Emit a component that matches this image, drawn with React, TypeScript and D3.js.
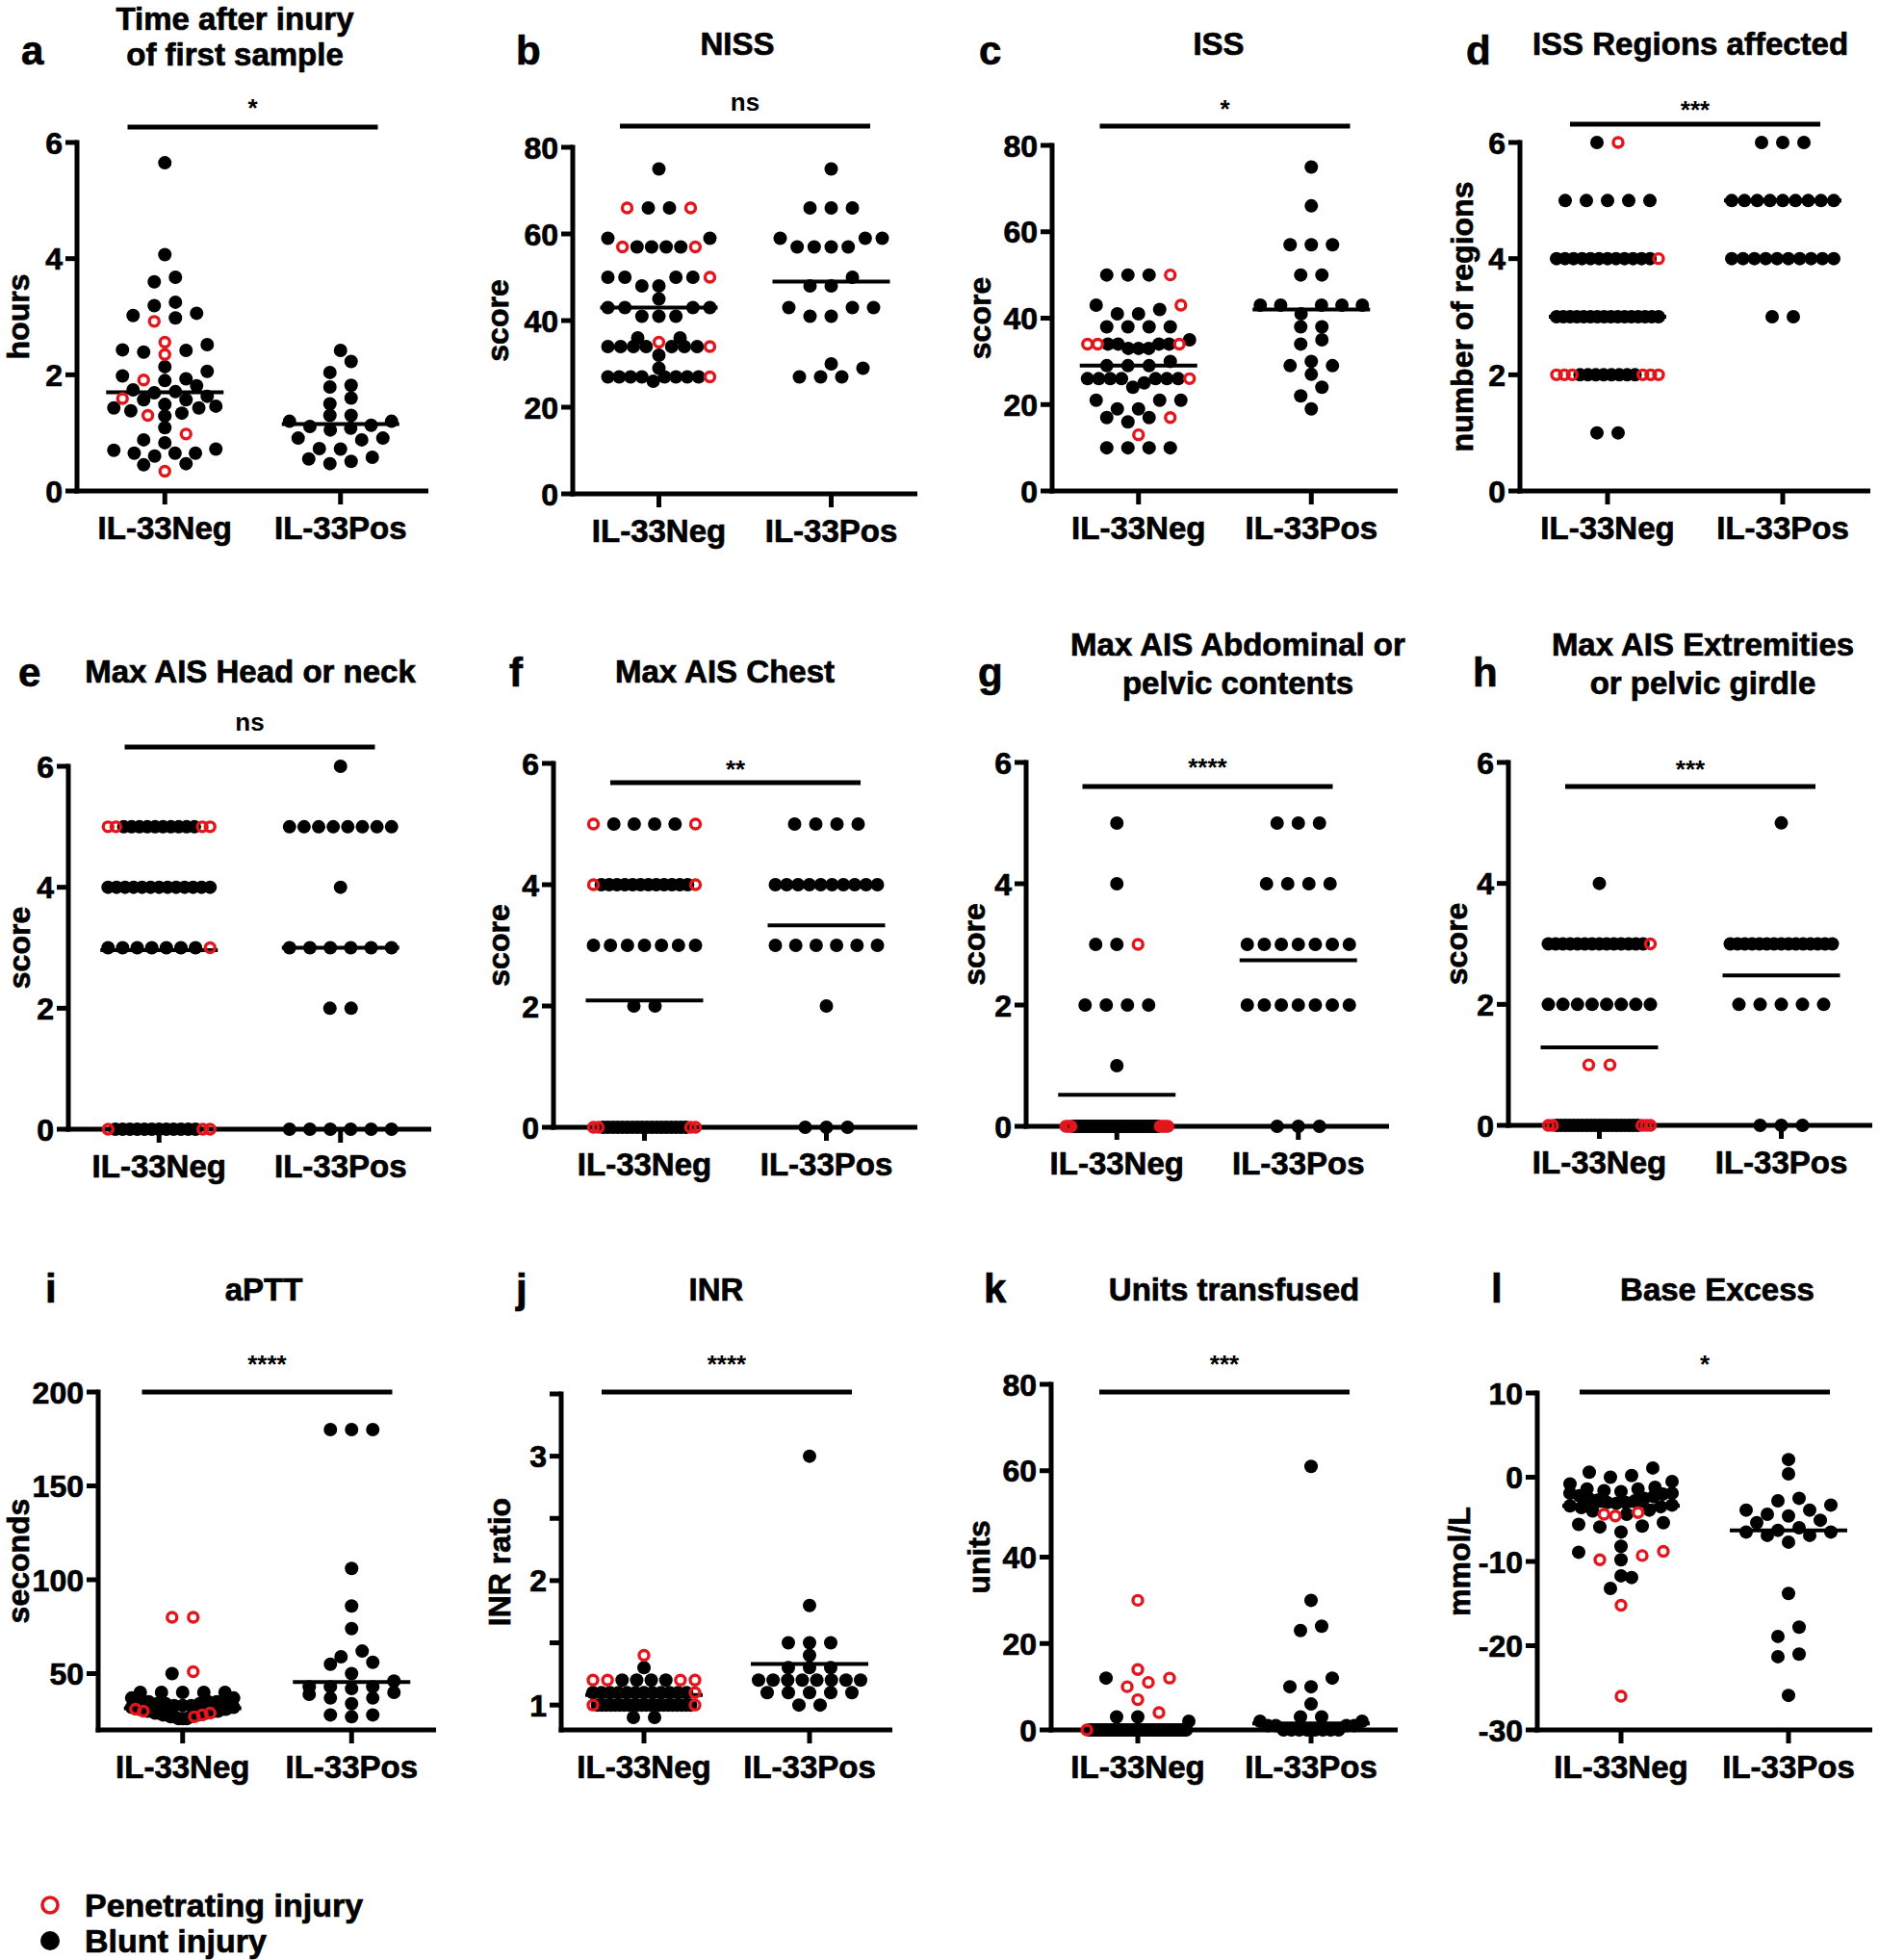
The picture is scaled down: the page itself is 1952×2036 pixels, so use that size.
import React from "react"
import * as d3 from "d3"

const GROUPS = ["IL-33Neg", "IL-33Pos"]

// a - time after injury (hours)
const timeNeg = [5.65, 4.07, 3.68, 3.6, 3.25, 3.19, 3.06, 3.02, 2.98, 2.52, 2.43, 2.42, 2.39, 2.14, 2.06, 1.98, 1.93, 1.9, 1.81, 1.74, 1.71, 1.69, 1.63, 1.57, 1.57, 1.49, 1.46, 1.43, 1.43, 1.38, 1.34, 1.29, 1.09, 0.88, 0.83, 0.72, 0.7, 0.65, 0.65, 0.65, 0.6, 0.47, 0.45]
const timeNegPen = [2.92, 2.56, 2.35, 1.91, 1.59, 1.3, 0.98, 0.34]
const timePos = [2.42, 2.23, 2.04, 1.82, 1.79, 1.6, 1.5, 1.3, 1.3, 1.2, 1.2, 1.13, 1.11, 1.08, 1.05, 0.91, 0.91, 0.88, 0.73, 0.72, 0.58, 0.55, 0.51, 0.47]
const timeMean = [1.7, 1.15]

// b - NISS
const nissNeg = [75, 66, 66, 59, 59, 57, 57, 57, 57, 50, 50, 50, 50, 48, 48, 45, 43, 43, 43, 43, 41, 41, 41, 36, 36, 34, 34, 34, 34, 34, 34, 34, 32, 29, 27, 27, 27, 27, 27, 27, 27, 27, 26]
const nissNegPen = [66, 66, 57, 57, 50, 35, 34, 27]
const nissPos = [75, 66, 66, 66, 59, 59, 59, 57, 57, 57, 57, 50, 48, 48, 43, 43, 43, 41, 41, 30, 29, 27, 27, 27]
const nissMean = [43, 49]

// c - ISS
const issNeg = [50, 50, 50, 43, 42, 41, 41, 38, 38, 38, 38, 35, 34, 34, 34, 34, 33, 33, 33, 30, 29, 29, 29, 26, 26, 26, 26, 26, 26, 26, 25, 24, 21, 21, 21, 19, 19, 17, 17, 16, 10, 10, 10, 10]
const issNegPen = [50, 43, 34, 34, 34, 26, 17, 13]
const issPos = [75, 66, 57, 57, 57, 50, 50, 43, 43, 43, 43, 43, 41, 38, 38, 35, 34, 30, 29, 29, 27, 24, 22, 19]
const issMean = [29, 42]

// d - ISS regions affected
const regionsNeg = [6, 5, 5, 5, 5, 5, 4, 4, 4, 4, 4, 4, 4, 4, 4, 4, 4, 4, 3, 3, 3, 3, 3, 3, 3, 3, 3, 3, 3, 3, 3, 3, 3, 3, 2, 2, 2, 2, 2, 2, 2, 2, 1, 1]
const regionsNegPen = [6, 4, 2, 2, 2, 2, 2, 2]
const regionsPos = [6, 6, 6, 5, 5, 5, 5, 5, 5, 5, 5, 5, 4, 4, 4, 4, 4, 4, 4, 4, 4, 4, 3, 3]
const regionsMean = [3, 5]

// e - max AIS head or neck
const headNeg = [5, 5, 5, 5, 5, 5, 5, 5, 5, 5, 4, 4, 4, 4, 4, 4, 4, 4, 4, 4, 4, 4, 4, 3, 3, 3, 3, 3, 3, 3, 0, 0, 0, 0, 0, 0, 0, 0, 0, 0, 0, 0]
const headNegPen = [5, 5, 5, 5, 3, 0, 0, 0]
const headPos = [6, 5, 5, 5, 5, 5, 5, 5, 5, 4, 3, 3, 3, 3, 3, 3, 2, 2, 0, 0, 0, 0, 0, 0]
const headMean = [2.96, 3]

// f - max AIS chest
const chestNeg = [5, 5, 5, 5, 4, 4, 4, 4, 4, 4, 4, 4, 4, 4, 4, 4, 3, 3, 3, 3, 3, 3, 3, 2, 2, 0, 0, 0, 0, 0, 0, 0, 0, 0, 0, 0, 0, 0, 0, 0, 0, 0, 0]
const chestNegPen = [5, 5, 4, 4, 0, 0, 0, 0]
const chestPos = [5, 5, 5, 5, 4, 4, 4, 4, 4, 4, 4, 4, 4, 4, 3, 3, 3, 3, 3, 3, 2, 0, 0, 0]
const chestMean = [2.09, 3.33]

// g - max AIS abdominal or pelvic contents
const abdNeg = [5, 4, 3, 3, 2, 2, 2, 2, 1, 0, 0, 0, 0, 0, 0, 0, 0, 0, 0, 0, 0, 0, 0, 0, 0, 0, 0, 0, 0, 0, 0, 0, 0, 0, 0, 0, 0, 0, 0, 0, 0, 0, 0]
const abdNegPen = [3, 0, 0, 0, 0, 0, 0, 0]
const abdPos = [5, 5, 5, 4, 4, 4, 4, 3, 3, 3, 3, 3, 3, 3, 2, 2, 2, 2, 2, 2, 2, 0, 0, 0]
const abdMean = [0.52, 2.74]

// h - max AIS extremities or pelvic girdle
const extNeg = [4, 3, 3, 3, 3, 3, 3, 3, 3, 3, 3, 3, 3, 3, 3, 2, 2, 2, 2, 2, 2, 2, 2, 0, 0, 0, 0, 0, 0, 0, 0, 0, 0, 0, 0, 0, 0, 0, 0, 0, 0, 0, 0]
const extNegPen = [3, 1, 1, 0, 0, 0, 0, 0]
const extPos = [5, 3, 3, 3, 3, 3, 3, 3, 3, 3, 3, 3, 3, 3, 3, 3, 2, 2, 2, 2, 2, 0, 0, 0]
const extMean = [1.29, 2.48]

// i - aPTT (seconds)
const apttNeg = [50, 40, 40, 40, 40, 40, 37, 37, 36, 36, 35, 35, 35, 34, 34, 34, 33, 33, 33, 32, 32, 32, 31, 31, 31, 30, 30, 30, 30, 29, 29, 29, 28, 28, 28, 27, 27, 27, 26, 26, 26]
const apttNegPen = [80, 80, 51, 31, 30, 29, 28, 27]
const apttPos = [180, 180, 180, 106, 86, 74, 62, 59, 56, 55, 50, 46, 43, 43, 43, 42, 40, 39, 37, 37, 34, 28, 28, 27]
const apttMean = [31.5, 45.5]

// j - INR
const inrNeg = [1.3, 1.2, 1.2, 1.2, 1.2, 1.1, 1.1, 1.1, 1.1, 1.1, 1.1, 1.1, 1.1, 1.1, 1.1, 1.1, 1.1, 1.0, 1.0, 1.0, 1.0, 1.0, 1.0, 1.0, 1.0, 1.0, 1.0, 1.0, 1.0, 1.0, 1.0, 1.0, 1.0, 1.0, 1.0, 1.0, 1.0, 1.0, 1.0, 0.9, 0.9]
const inrNegPen = [1.4, 1.2, 1.2, 1.2, 1.2, 1.1, 1.0, 1.0]
const inrPos = [3.0, 1.8, 1.5, 1.5, 1.5, 1.4, 1.3, 1.3, 1.3, 1.2, 1.2, 1.2, 1.2, 1.2, 1.2, 1.2, 1.2, 1.1, 1.1, 1.1, 1.1, 1.1, 1.0, 1.0]
const inrMean = [1.08, 1.33]

// k - units transfused
const unitsNeg = [12, 3, 3, 2, 0, 0, 0, 0, 0, 0, 0, 0, 0, 0, 0, 0, 0, 0, 0, 0, 0, 0, 0, 0, 0, 0, 0, 0, 0, 0, 0, 0, 0, 0, 0, 0, 0, 0, 0, 0, 0, 0]
const unitsNegPen = [30, 14, 12, 11, 10, 7, 4, 0]
const unitsPos = [61, 30, 24, 23, 12, 10, 10, 6, 3, 3, 2, 2, 1, 1, 1, 1, 0, 0, 0, 0, 0, 0, 0, 0]
const unitsMean = [0, 1.5]

// l - base excess (mmol/L)
const beNeg = [1.1, 0.6, 0.2, 0.0, -0.5, -0.8, -1.2, -1.4, -1.4, -1.6, -1.7, -1.9, -1.9, -2.0, -2.2, -2.3, -2.5, -2.5, -2.7, -2.8, -3.0, -3.0, -3.1, -3.3, -3.4, -3.5, -3.6, -3.9, -4.0, -4.4, -5.4, -5.6, -5.8, -5.9, -6.5, -8.2, -8.9, -9.8, -11.7, -11.9, -13.2]
const beNegPen = [-4.2, -4.4, -4.6, -8.8, -9.3, -9.8, -15.2, -26.0]
const bePos = [2.1, 0.4, -2.5, -2.8, -3.3, -3.9, -3.9, -4.4, -4.6, -5.1, -5.4, -6.0, -6.3, -6.5, -6.5, -6.9, -6.9, -7.7, -13.8, -17.8, -18.9, -21.0, -21.3, -25.9]
const beMean = [-3.4, -6.3]

const FONT = "'Liberation Sans', Arial, Helvetica, sans-serif"
const RED = "#e3161d"
const DOT_R = 7
const BIN = 12 // px, rows of the scatter
const MAX_GAP = 22
const MAX_SPAN = 106

type Pt = { v: number; pen: boolean }

// prism-like column scatter: rows of nearby values, lowest value in the middle
function placeGroup(points: Pt[], y: d3.ScaleLinear<number, number>, cx: number) {
  const sorted = [...points].sort((a, b) => a.v - b.v || (a.pen ? 1 : 0) - (b.pen ? 1 : 0))
  const rows: Pt[][] = []
  let cur: Pt[] = []
  let startY = 0
  sorted.forEach((p) => {
    const py = y(p.v)
    if (cur.length && Math.abs(py - startY) > BIN) {
      rows.push(cur)
      cur = []
    }
    if (!cur.length) startY = py
    cur.push(p)
  })
  if (cur.length) rows.push(cur)

  const out: { x: number; y: number; pen: boolean }[] = []
  rows.forEach((row) => {
    const n = row.length
    const sp = n > 1 ? Math.min(MAX_GAP, MAX_SPAN / (n - 1)) : 0
    const slots = d3.range(n).map((i) => (i - (n - 1) / 2) * sp)
    const order = d3.range(n).sort((a, b) => Math.abs(slots[a]) - Math.abs(slots[b]) || a - b)
    row.forEach((p, i) => out.push({ x: cx + slots[order[i]], y: y(p.v), pen: p.pen }))
  })
  return out
}

const PANELS = [
  { letter: "a", title: ["Time after inury", "of first sample"], yLabel: "hours", sig: "*", neg: timeNeg, negPen: timeNegPen, pos: timePos, mean: timeMean, domain: [0, 6], tickCount: 3, box: [80, 445, 148, 510], labelDx: -50, titleX: 244, letterX: 22, sigY: 132, sigTextY: 121, row: 0 },
  { letter: "b", title: ["NISS"], yLabel: "score", sig: "ns", neg: nissNeg, negPen: nissNegPen, pos: nissPos, mean: nissMean, domain: [0, 80], tickCount: 4, box: [595, 953, 153, 513], labelDx: -67, titleX: 766, letterX: 536, sigY: 131, sigTextY: 115, row: 0 },
  { letter: "c", title: ["ISS"], yLabel: "score", sig: "*", neg: issNeg, negPen: issNegPen, pos: issPos, mean: issMean, domain: [0, 80], tickCount: 4, box: [1093, 1452, 151, 510], labelDx: -64, titleX: 1266, letterX: 1017, sigY: 131, sigTextY: 122, row: 0 },
  { letter: "d", title: ["ISS Regions affected"], yLabel: "number of regions", sig: "***", neg: regionsNeg, negPen: regionsNegPen, pos: regionsPos, mean: regionsMean, domain: [0, 6], tickCount: 3, box: [1579, 1943, 148, 510], labelDx: -49, titleX: 1756, letterX: 1523, sigY: 129, sigTextY: 123, row: 0 },
  { letter: "e", title: ["Max AIS Head or neck"], yLabel: "score", sig: "ns", neg: headNeg, negPen: headNegPen, pos: headPos, mean: headMean, domain: [0, 6], tickCount: 3, box: [71, 448, 796, 1173], labelDx: -40, titleX: 260, letterX: 19, sigY: 776, sigTextY: 759, row: 1 },
  { letter: "f", title: ["Max AIS Chest"], yLabel: "score", sig: "**", neg: chestNeg, negPen: chestNegPen, pos: chestPos, mean: chestMean, domain: [0, 6], tickCount: 3, box: [575, 953, 793, 1171], labelDx: -46, titleX: 753, letterX: 529, sigY: 813, sigTextY: 808, row: 1 },
  { letter: "g", title: ["Max AIS Abdominal or", "pelvic contents"], yLabel: "score", sig: "****", neg: abdNeg, negPen: abdNegPen, pos: abdPos, mean: abdMean, domain: [0, 6], tickCount: 3, box: [1066, 1443, 792, 1170], labelDx: -43, titleX: 1286, letterX: 1016, sigY: 817, sigTextY: 806, row: 1 },
  { letter: "h", title: ["Max AIS Extremities", "or pelvic girdle"], yLabel: "score", sig: "***", neg: extNeg, negPen: extNegPen, pos: extPos, mean: extMean, domain: [0, 6], tickCount: 3, box: [1567, 1945, 792, 1169], labelDx: -43, titleX: 1769, letterX: 1530, sigY: 817, sigTextY: 808, row: 1 },
  { letter: "i", title: ["aPTT"], yLabel: "seconds", sig: "****", neg: apttNeg, negPen: apttNegPen, pos: apttPos, mean: apttMean, domain: [20, 200], tickCount: 4, box: [102, 453, 1446, 1797], labelDx: -72, titleX: 274, letterX: 47, sigY: 1446, sigTextY: 1426, row: 2 },
  { letter: "j", title: ["INR"], yLabel: "INR ratio", sig: "****", neg: inrNeg, negPen: inrNegPen, pos: inrPos, mean: inrMean, domain: [0.8, 3.5], tickCount: 3, minorCount: 6, box: [583, 927, 1448, 1797], labelDx: -53, titleX: 744, letterX: 536, sigY: 1446, sigTextY: 1426, row: 2 },
  { letter: "k", title: ["Units transfused"], yLabel: "units", sig: "***", neg: unitsNeg, negPen: unitsNegPen, pos: unitsPos, mean: unitsMean, domain: [0, 80], tickCount: 4, box: [1092, 1452, 1438, 1797], labelDx: -64, titleX: 1282, letterX: 1022, sigY: 1446, sigTextY: 1426, row: 2 },
  { letter: "l", title: ["Base Excess"], yLabel: "mmol/L", sig: "*", neg: beNeg, negPen: beNegPen, pos: bePos, mean: beMean, domain: [-30, 10], tickCount: 4, box: [1597, 1945, 1447, 1797], labelDx: -70, titleX: 1784, letterX: 1549, sigY: 1446, sigTextY: 1426, row: 2 },
]

// title baselines per row: one line / two lines, and panel letter baseline
const ROWS = [
  { one: 57, two: [31, 68], letter: 67 },
  { one: 709, two: [681, 721], letter: 713 },
  { one: 1351, two: [1331, 1371], letter: 1353 },
]

// a thin outline makes Liberation Sans Bold look closer to the heavy original lettering
const heavy = { fontWeight: "bold" as const, stroke: "#000", strokeWidth: 0.7 }

function Panel({ p }: { p: any }) {
  const [x0, x1, yTop, yBot] = p.box
  const y = d3.scaleLinear().domain(p.domain).range([yBot, yTop])
  const x = d3.scalePoint<string>().domain(GROUPS).range([x0, x1]).padding(0.5)
  const ticks = y.ticks(p.tickCount)
  const minor = p.minorCount ? y.ticks(p.minorCount).filter((t) => !ticks.includes(t)) : []
  const cNeg = x(GROUPS[0]) as number
  const cPos = x(GROUPS[1]) as number

  const dots = [
    ...placeGroup([...p.neg.map((v: number) => ({ v, pen: false })), ...p.negPen.map((v: number) => ({ v, pen: true }))], y, cNeg),
    ...placeGroup(p.pos.map((v: number) => ({ v, pen: false })), y, cPos),
  ]
  const row = ROWS[p.row]
  const sigMid = (cNeg + cPos) / 2
  const lines: string[] = p.title

  return (
    <g>
      <text x={p.letterX} y={row.letter} fontSize={42} {...heavy}>{p.letter}</text>
      {lines.map((t, i) => (
        <text key={i} x={p.titleX} y={lines.length === 1 ? row.one : row.two[i]} textAnchor="middle" fontSize={33} {...heavy}>{t}</text>
      ))}

      {/* significance */}
      <line x1={sigMid - 130} x2={sigMid + 130} y1={p.sigY} y2={p.sigY} stroke="#000" strokeWidth={5} />
      <text x={sigMid} y={p.sigTextY} textAnchor="middle" fontSize={26} fontWeight="bold">{p.sig}</text>

      {/* y axis */}
      <line x1={x0} x2={x0} y1={yTop - 2.5} y2={yBot + 2.5} stroke="#000" strokeWidth={5} />
      {[...ticks, ...minor].map((t) => (
        <line key={"t" + t} x1={x0 - 12} x2={x0} y1={y(t)} y2={y(t)} stroke="#000" strokeWidth={5} />
      ))}
      {ticks.map((t) => (
        <text key={"l" + t} x={x0 - 15} y={y(t)} dy="0.36em" textAnchor="end" fontSize={32} {...heavy}>{String(t)}</text>
      ))}
      <text transform={`translate(${x0 + p.labelDx},${(yTop + yBot) / 2}) rotate(-90)`} textAnchor="middle" fontSize={32} {...heavy}>{p.yLabel}</text>

      {/* x axis */}
      <line x1={x0 - 2.5} x2={x1} y1={yBot} y2={yBot} stroke="#000" strokeWidth={5} />
      {GROUPS.map((g) => (
        <g key={g}>
          <line x1={x(g)} x2={x(g)} y1={yBot} y2={yBot + 14} stroke="#000" strokeWidth={5} />
          <text x={x(g)} y={yBot + 50} textAnchor="middle" fontSize={33} {...heavy}>{g}</text>
        </g>
      ))}

      {/* mean lines */}
      {p.mean.map((m: number, i: number) => (
        <line key={"m" + i} x1={(x(GROUPS[i]) as number) - 61} x2={(x(GROUPS[i]) as number) + 61} y1={y(m)} y2={y(m)} stroke="#000" strokeWidth={4} />
      ))}

      {dots.filter((d) => !d.pen).map((d, i) => (
        <circle key={"b" + i} cx={d.x} cy={d.y} r={DOT_R} fill="#000" />
      ))}
      {dots.filter((d) => d.pen).map((d, i) => (
        <circle key={"p" + i} cx={d.x} cy={d.y} r={5} fill="none" stroke={RED} strokeWidth={3.4} />
      ))}
    </g>
  )
}

export default function App() {
  return (
    <div style={{ position: "absolute", left: 0, top: 0, background: "#fff" }}>
      <svg width={1952} height={2036} style={{ display: "block", fontFamily: FONT }}>
        <rect width={1952} height={2036} fill="#fff" />
        {PANELS.map((p) => (
          <Panel key={p.letter} p={p} />
        ))}
        <circle cx={52} cy={1979} r={8} fill="none" stroke={RED} strokeWidth={3.6} />
        <text x={88} y={1991} fontSize={34} {...heavy}>Penetrating injury</text>
        <circle cx={52} cy={2016} r={10} fill="#000" />
        <text x={88} y={2028} fontSize={34} {...heavy}>Blunt injury</text>
      </svg>
    </div>
  )
}
